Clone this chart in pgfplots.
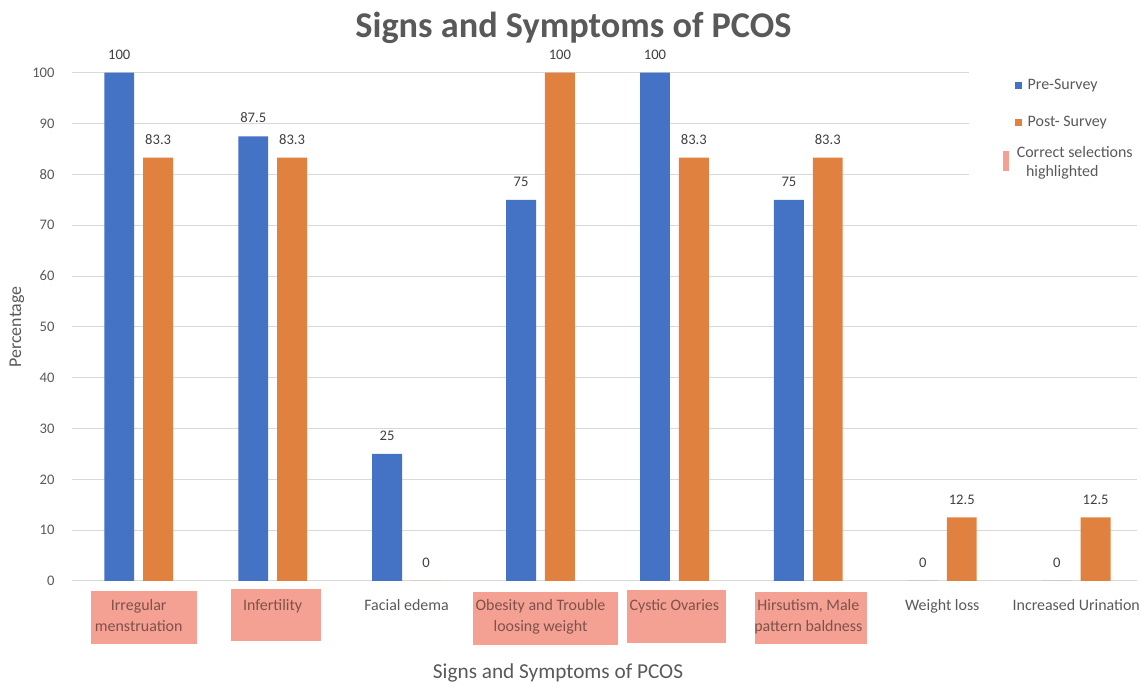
\documentclass[border=0pt]{standalone}
\usepackage{pgfplots}
\pgfplotsset{compat=1.18}
\usepackage{fontspec}
\setmainfont{Carlito}

\definecolor{preblue}{HTML}{4472C4}
\definecolor{postorange}{HTML}{E0813F}
\definecolor{hl}{HTML}{F4A092}
\definecolor{gridgray}{HTML}{D9D9D9}
\definecolor{txtgray}{HTML}{595959}
\definecolor{lblgray}{HTML}{404040}
\definecolor{hltext}{HTML}{7E524A}

\newcommand{\hl}[1]{\textcolor{hltext}{#1}}

\begin{document}
\begin{tikzpicture}
% page frame and highlight boxes behind the category names
\begin{scope}[x=0.75pt,y=-0.75pt,shift={(-54pt,437.25pt)}]
  \useasboundingbox (0,0) rectangle (1141,685);
  \fill[hl] (91,593)  rectangle (198,646);
  \fill[hl] (232,591) rectangle (322,643);
  \fill[hl] (475,594) rectangle (620,647);
  \fill[hl] (629,592) rectangle (729,645);
  \fill[hl] (758,594) rectangle (870,646);
\end{scope}

\begin{axis}[
  at={(0,0)}, anchor=south west,
  scale only axis, width=801.75pt, height=382.5pt,
  xmin=-0.5, xmax=7.454, ymin=0, ymax=100,
  clip=false,
  axis line style={draw=none},
  major tick length=0pt,
  ymajorgrids, grid style={gridgray, line width=0.8pt},
  ytick={0,10,...,100},
  xtick={0,...,7},
  xticklabels={
    {\hl{Irregular}\\\hl{menstruation}},
    {\hl{Infertility}},
    {Facial edema},
    {\hl{Obesity and Trouble}\\\hl{loosing weight}},
    {\hl{Cystic Ovaries}},
    {\hl{Hirsutism, Male}\\\hl{pattern baldness}},
    {Weight loss},
    {Increased Urination}},
  /pgf/number format/assume math mode=true,
  /pgf/number format/fixed,
  yticklabel style={font=\fontsize{11}{13}\selectfont, text=txtgray,
    anchor=east, inner sep=0pt, xshift=-12.75pt},
  xticklabel style={font=\fontsize{12}{15.75}\selectfont, text=txtgray,
    align=center, anchor=north, inner sep=0pt, yshift=-13.5pt},
  title={Signs and Symptoms of PCOS},
  title style={at={(axis description cs:0.471,1.0529)}, anchor=base,
    font=\fontsize{27.3}{32}\selectfont\bfseries, text=txtgray},
  xlabel={Signs and Symptoms of PCOS},
  xlabel style={at={(axis description cs:0.4565,-0.1804)}, anchor=center,
    font=\fontsize{16}{19}\selectfont, text=txtgray},
  ylabel={Percentage},
  ylabel style={at={(axis description cs:-0.0515,0.5)}, anchor=center,
    font=\fontsize{13.5}{16}\selectfont, text=txtgray},
  every node near coord/.append style={font=\fontsize{11}{13}\selectfont,
    text=lblgray, anchor=south, inner sep=0pt, yshift=9.75pt},
]
\addplot[ybar, bar width=22.5pt, bar shift=-14.625pt, fill=preblue, draw=none,
  nodes near coords,
  every node near coord/.append style={xshift=-14.625pt}] coordinates {
  (0,100) (1,87.5) (2,25) (3,75) (4,100) (5,75) (6,0) (7,0)};
\addplot[ybar, bar width=22.5pt, bar shift=14.625pt, fill=postorange, draw=none,
  nodes near coords,
  every node near coord/.append style={xshift=14.625pt}] coordinates {
  (0,83.3) (1,83.3) (2,0) (3,100) (4,83.3) (5,83.3) (6,12.5) (7,12.5)};
\end{axis}

% legend
\begin{scope}[x=0.75pt,y=-0.75pt,shift={(-54pt,437.25pt)},
  every node/.style={inner sep=0pt, text=txtgray, font=\fontsize{12}{14.5}\selectfont}]
  \fill[white] (972,58) rectangle (1145,196);
  \fill[preblue] (1019,82) rectangle (1026,89);
  \node[anchor=base west] at (1031,90) {Pre-Survey};
  \fill[postorange] (1019,119) rectangle (1026,126);
  \node[anchor=base west] at (1031,127) {Post- Survey};
  \fill[hl] (1007,152) rectangle (1013,172);
  \node[anchor=base] at (1078.5,158) {Correct selections};
  \node[anchor=base] at (1066,177) {highlighted};
\end{scope}
\end{tikzpicture}
\end{document}
